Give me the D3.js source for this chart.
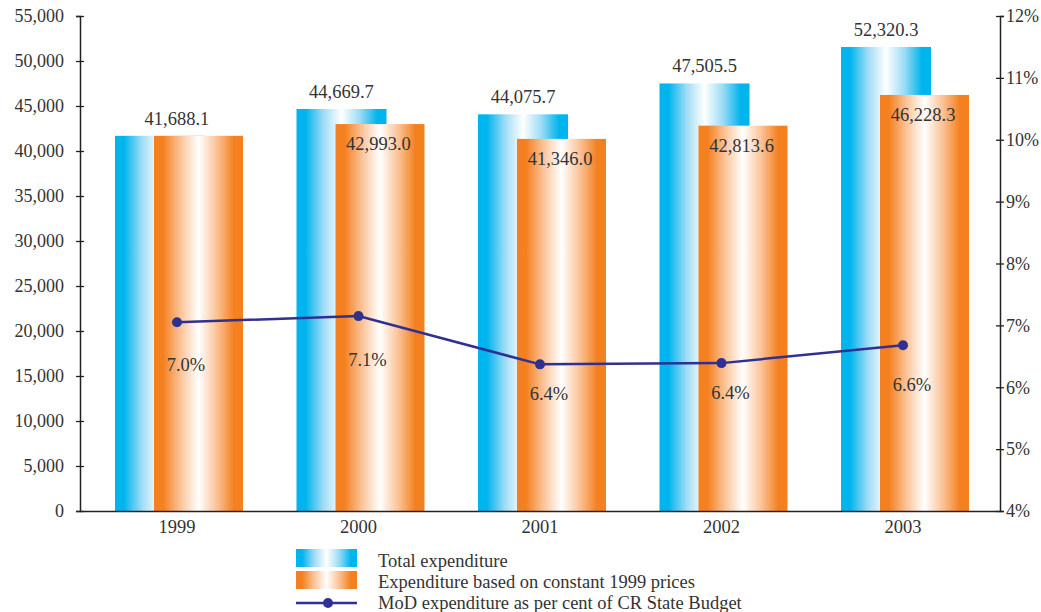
<!DOCTYPE html>
<html><head><meta charset="utf-8">
<script src="https://cdn.jsdelivr.net/npm/d3@7"></script>
<style>body{margin:0;background:#fff}text{font-family:"Liberation Serif","Times New Roman",serif;fill:#333}</style>
</head><body><svg id="c" width="1041" height="612"></svg>
<script>
const years = ["1999","2000","2001","2002","2003"];
const totalValues = [41688.1, 44669.7, 44075.7, 47505.5, 51560];
const totalLabels = ["41,688.1","44,669.7","44,075.7","47,505.5","52,320.3"];
const constValues = [41688.1, 42993.0, 41346.0, 42813.6, 46228.3];
const constLabels = [null,"42,993.0","41,346.0","42,813.6","46,228.3"];
const pctValues = [7.05, 7.15, 6.37, 6.39, 6.68];
const pctLabels = ["7.0%","7.1%","6.4%","6.4%","6.6%"];
const leftTicks = [0,5000,10000,15000,20000,25000,30000,35000,40000,45000,50000,55000];
const rightTicks = [4,5,6,7,8,9,10,11,12];
const legendLabels = ["Total expenditure","Expenditure based on constant 1999 prices","MoD expenditure as per cent of CR State Budget"];

const svg = d3.select("#c");
const L = 80, R = 1000, T = 16, B = 511;
const x = d3.scaleBand().domain(years).range([L, R]).paddingOuter(0.0344).paddingInner(0);
const y = d3.scaleLinear().domain([0, 55000]).range([B, T]);
const y2 = d3.scaleLinear().domain([4, 12]).range([B, T]);
const bw = 90;
const pctLabelDy = [43, 44, 30, 30, 40];
const FS = 18.5;

const defs = svg.append("defs");
function grad(id, c, mid){
  const g = defs.append("linearGradient").attr("id", id).attr("x1","0").attr("x2","1").attr("y1","0").attr("y2","0");
  [[0,c],[0.1,c],[0.3,mid],[0.5,"#ffffff"],[0.7,mid],[0.9,c],[1,c]].forEach(s=>g.append("stop").attr("offset",s[0]).attr("stop-color",s[1]));
}
grad("gb","#00b4ee","#9fdcf6");
grad("go","#f4801f","#fbc49a");

const cx = d => x(d) + x.bandwidth()/2;
const bx = d => cx(d) - 62;
const ox = d => cx(d) - 23;

// blue bars
svg.append("g").selectAll("rect").data(years).join("rect")
  .attr("x", bx).attr("width", bw)
  .attr("y", (d,i)=>y(totalValues[i])).attr("height",(d,i)=>B - y(totalValues[i]))
  .attr("fill","url(#gb)");
// orange bars
svg.append("g").selectAll("rect").data(years).join("rect")
  .attr("x", ox).attr("width", bw-1)
  .attr("y", (d,i)=>y(constValues[i])).attr("height",(d,i)=>B - y(constValues[i]))
  .attr("fill","url(#go)");

// labels
svg.append("g").selectAll("text").data(years).join("text")
  .attr("x",(d,i)=> constLabels[i] ? bx(d)+bw/2 : cx(d))
  .attr("y",(d,i)=>y(totalValues[i]) - 11)
  .attr("text-anchor","middle").attr("font-size",FS).text((d,i)=>totalLabels[i]);
svg.append("g").selectAll("text").data(years.filter((d,i)=>constLabels[i])).join("text")
  .attr("x",d=>ox(d)+bw/2 - 2)
  .attr("y",d=>y(constValues[years.indexOf(d)]) + 26)
  .attr("text-anchor","middle").attr("font-size",FS).text(d=>constLabels[years.indexOf(d)]);

// axes
const axL = svg.append("g").attr("transform",`translate(${L},0)`)
  .call(d3.axisLeft(y).tickValues(leftTicks).tickSize(4).tickFormat(d3.format(",")));
const axR = svg.append("g").attr("transform",`translate(${R},0)`)
  .call(d3.axisRight(y2).tickValues(rightTicks).tickSize(4).tickFormat(d=>d+"%"));
[axL, axR].forEach(a=>{
  a.select(".domain").attr("stroke","#222").attr("stroke-width",1.5);
  a.selectAll(".tick line").attr("stroke","#222").attr("stroke-width",1.3).attr("x1", a===axL? 4 : -4).attr("x2", a===axL? -4 : 4);
  a.selectAll(".tick text").attr("font-size",18).attr("fill","#333");
});
axL.selectAll(".tick text").attr("x",-16);
axR.selectAll(".tick text").attr("x",6);
const axB = svg.append("g").attr("transform",`translate(0,${B})`)
  .call(d3.axisBottom(x).tickSize(0).tickPadding(9));
axB.select(".domain").attr("stroke","#222").attr("stroke-width",1.5);
axB.selectAll(".tick text").attr("font-size",FS).attr("fill","#333");

// line
const line = d3.line().x((d,i)=>cx(years[i])).y(d=>y2(d));
svg.append("path").datum(pctValues).attr("d",line).attr("fill","none").attr("stroke","#2e3192").attr("stroke-width",2.5);
svg.append("g").selectAll("circle").data(pctValues).join("circle")
  .attr("cx",(d,i)=>cx(years[i])).attr("cy",d=>y2(d)).attr("r",5).attr("fill","#2e3192");
svg.append("g").selectAll("text").data(pctValues).join("text")
  .attr("x",(d,i)=>cx(years[i])+9).attr("y",(d,i)=>y2(d)+pctLabelDy[i]+6)
  .attr("text-anchor","middle").attr("font-size",FS).text((d,i)=>pctLabels[i]);

// legend
const lg = svg.append("g").attr("transform","translate(296,549)");
lg.append("rect").attr("x",0).attr("y",0).attr("width",61).attr("height",18).attr("fill","url(#gb)");
lg.append("rect").attr("x",0).attr("y",22).attr("width",61).attr("height",18).attr("fill","url(#go)");
lg.append("line").attr("x1",0).attr("x2",61).attr("y1",54).attr("y2",54).attr("stroke","#2e3192").attr("stroke-width",2.5);
lg.append("circle").attr("cx",32).attr("cy",54).attr("r",5).attr("fill","#2e3192");
legendLabels.forEach((t,i)=>lg.append("text").attr("x",82).attr("y",18+i*21).attr("font-size",FS).text(t));
</script></body></html>
